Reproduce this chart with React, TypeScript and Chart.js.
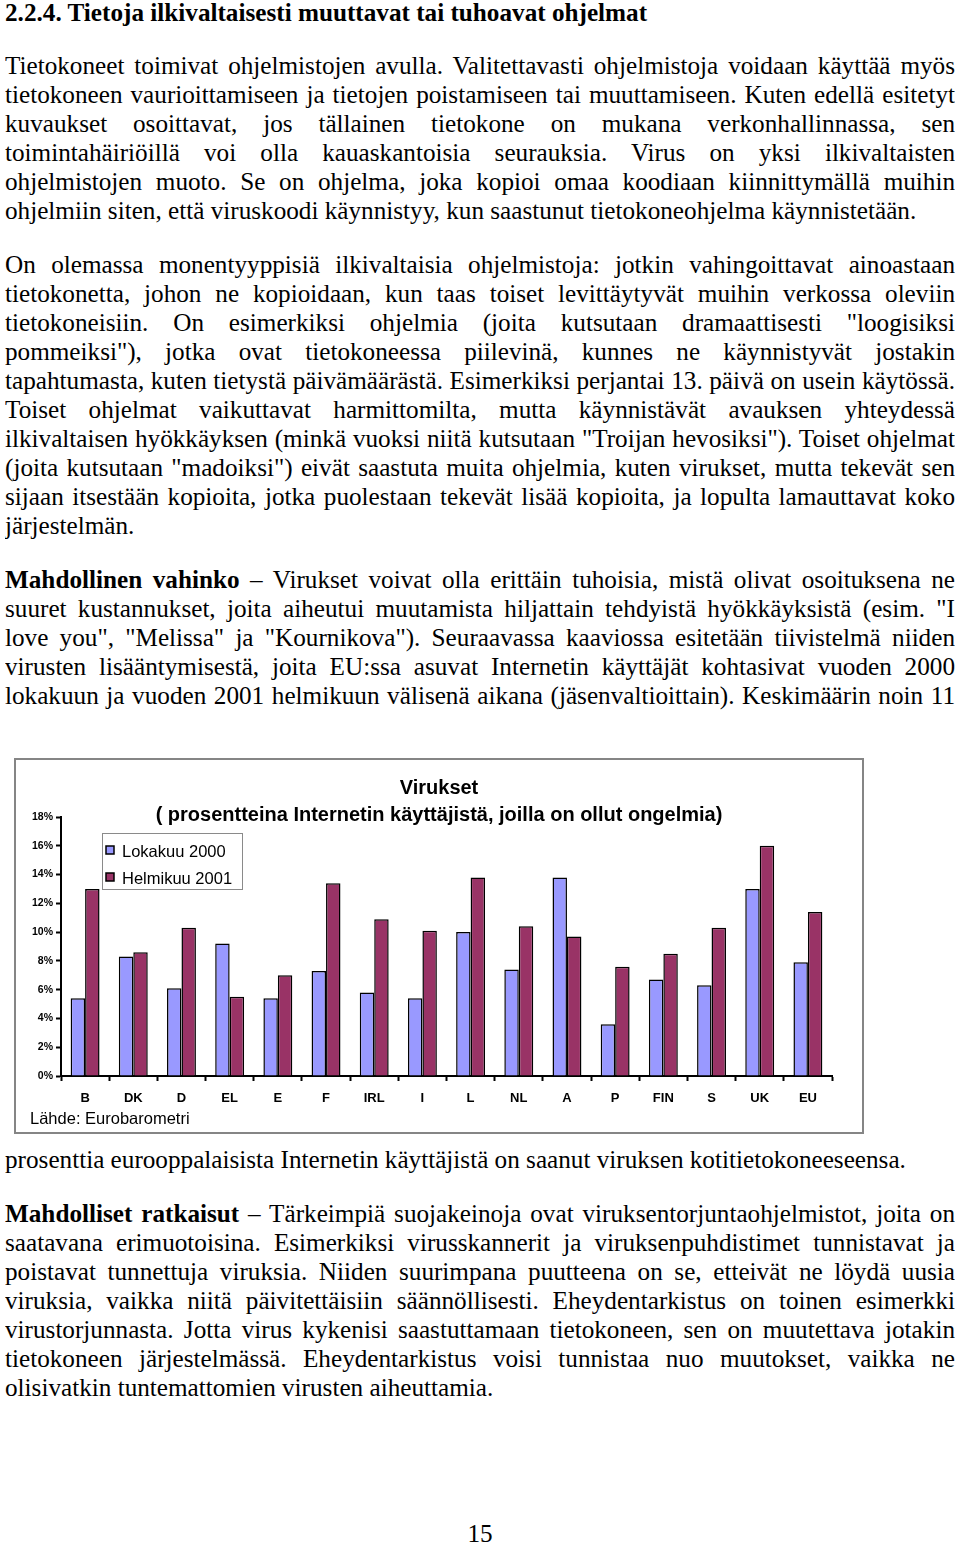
import React, { useEffect, useRef } from "react";
import { Chart, registerables } from "chart.js";

Chart.register(...registerables);

// ---- chart data ----
const categories = ["B", "DK", "D", "EL", "E", "F", "IRL", "I", "L", "NL", "A", "P", "FIN", "S", "UK", "EU"];
const oct2000 = [5.4, 8.3, 6.1, 9.2, 5.4, 7.3, 5.8, 5.4, 10.0, 7.4, 13.8, 3.6, 6.7, 6.3, 13.0, 7.9];
const feb2001 = [13.0, 8.6, 10.3, 5.5, 7.0, 13.4, 10.9, 10.1, 13.8, 10.4, 9.7, 7.6, 8.5, 10.3, 16.0, 11.4];
const seriesNames = ["Lokakuu 2000", "Helmikuu 2001"];
const seriesColors = ["#9999FF", "#993366"];
const yMin = 0;
const yMax = 18;
const yStep = 2;
const chartTitle = ["Virukset", "( prosentteina Internetin käyttäjistä, joilla on ollut ongelmia)"];
const sourceNote = "Lähde: Eurobarometri";

// ---- page text ----
const heading = "2.2.4. Tietoja ilkivaltaisesti muuttavat tai tuhoavat ohjelmat";
const para1 = [
  "Tietokoneet toimivat ohjelmistojen avulla. Valitettavasti ohjelmistoja voidaan käyttää myös",
  "tietokoneen vaurioittamiseen ja tietojen poistamiseen tai muuttamiseen. Kuten edellä esitetyt",
  "kuvaukset osoittavat, jos tällainen tietokone on mukana verkonhallinnassa, sen",
  "toimintahäiriöillä voi olla kauaskantoisia seurauksia. Virus on yksi ilkivaltaisten",
  "ohjelmistojen muoto. Se on ohjelma, joka kopioi omaa koodiaan kiinnittymällä muihin",
  "ohjelmiin siten, että viruskoodi käynnistyy, kun saastunut tietokoneohjelma käynnistetään.",
];
const para2 = [
  "On olemassa monentyyppisiä ilkivaltaisia ohjelmistoja: jotkin vahingoittavat ainoastaan",
  "tietokonetta, johon ne kopioidaan, kun taas toiset levittäytyvät muihin verkossa oleviin",
  "tietokoneisiin. On esimerkiksi ohjelmia (joita kutsutaan dramaattisesti \"loogisiksi",
  "pommeiksi\"), jotka ovat tietokoneessa piilevinä, kunnes ne käynnistyvät jostakin",
  "tapahtumasta, kuten tietystä päivämäärästä. Esimerkiksi perjantai 13. päivä on usein käytössä.",
  "Toiset ohjelmat vaikuttavat harmittomilta, mutta käynnistävät avauksen yhteydessä",
  "ilkivaltaisen hyökkäyksen (minkä vuoksi niitä kutsutaan \"Troijan hevosiksi\"). Toiset ohjelmat",
  "(joita kutsutaan \"madoiksi\") eivät saastuta muita ohjelmia, kuten virukset, mutta tekevät sen",
  "sijaan itsestään kopioita, jotka puolestaan tekevät lisää kopioita, ja lopulta lamauttavat koko",
  "järjestelmän.",
];
const para3Lead = "Mahdollinen vahinko";
const para3 = [
  " – Virukset voivat olla erittäin tuhoisia, mistä olivat osoituksena ne",
  "suuret kustannukset, joita aiheutui muutamista hiljattain tehdyistä hyökkäyksistä (esim. \"I",
  "love you\", \"Melissa\" ja \"Kournikova\"). Seuraavassa kaaviossa esitetään tiivistelmä niiden",
  "virusten lisääntymisestä, joita EU:ssa asuvat Internetin käyttäjät kohtasivat vuoden 2000",
  "lokakuun ja vuoden 2001 helmikuun välisenä aikana (jäsenvaltioittain). Keskimäärin noin 11",
];
const para4 = ["prosenttia eurooppalaisista Internetin käyttäjistä on saanut viruksen kotitietokoneeseensa."];
const para5Lead = "Mahdolliset ratkaisut";
const para5 = [
  " – Tärkeimpiä suojakeinoja ovat viruksentorjuntaohjelmistot, joita on",
  "saatavana erimuotoisina. Esimerkiksi virusskannerit ja viruksenpuhdistimet tunnistavat ja",
  "poistavat tunnettuja viruksia. Niiden suurimpana puutteena on se, etteivät ne löydä uusia",
  "viruksia, vaikka niitä päivitettäisiin säännöllisesti. Eheydentarkistus on toinen esimerkki",
  "virustorjunnasta. Jotta virus kykenisi saastuttamaan tietokoneen, sen on muutettava jotakin",
  "tietokoneen järjestelmässä. Eheydentarkistus voisi tunnistaa nuo muutokset, vaikka ne",
  "olisivatkin tuntemattomien virusten aiheuttamia.",
];
const pageNumber = "15";

const SANS = '"Liberation Sans", Arial, sans-serif';
const LINE_H = 29;

function Para(props: { lines: string[]; firstCenter: number; justifyLast: boolean; lead?: string }) {
  const { lines, firstCenter, justifyLast, lead } = props;
  return (
    <>
      {lines.map((ln, i) => {
        const isLast = i === lines.length - 1;
        const justify = !isLast || justifyLast;
        return (
          <div
            key={i}
            style={{
              position: "absolute",
              left: 5,
              width: 950,
              top: firstCenter + i * LINE_H - 14.5,
              height: LINE_H,
              lineHeight: LINE_H + "px",
              overflow: "hidden",
              textAlign: justify ? "justify" : "left",
              textAlignLast: justify ? "justify" : "left",
            } as React.CSSProperties}
          >
            {i === 0 && lead ? <b>{lead}</b> : null}
            {ln}
          </div>
        );
      })}
    </>
  );
}

function VirusChart() {
  const ref = useRef<HTMLCanvasElement | null>(null);
  useEffect(() => {
    if (!ref.current) return;
    const decor = {
      id: "decor",
      afterDraw(chart: any) {
        const ctx = chart.ctx as CanvasRenderingContext2D;
        ctx.save();
        // outer frame
        ctx.strokeStyle = "#858585";
        ctx.lineWidth = 2;
        ctx.strokeRect(1, 1, 848, 374);
        // title
        ctx.fillStyle = "#000";
        ctx.textAlign = "center";
        ctx.textBaseline = "middle";
        ctx.font = "bold 20px " + SANS;
        ctx.fillText(chartTitle[0], 425, 30);
        ctx.fillText(chartTitle[1], 425, 57);
        // legend box
        ctx.fillStyle = "#fff";
        ctx.fillRect(88, 75, 140, 56);
        ctx.strokeStyle = "#8a8a8a";
        ctx.lineWidth = 1;
        ctx.strokeRect(88.5, 75.5, 140, 56);
        const ds = chart.data.datasets;
        const rows = [93, 120];
        ds.forEach((d: any, i: number) => {
          const cy = rows[i];
          ctx.fillStyle = d.backgroundColor;
          ctx.fillRect(92, cy - 5, 8, 8);
          ctx.strokeStyle = "#000";
          ctx.lineWidth = 1.5;
          ctx.strokeRect(92, cy - 5, 8, 8);
          ctx.fillStyle = "#000";
          ctx.textAlign = "left";
          ctx.font = "16.5px " + SANS;
          ctx.fillText(d.label, 108, cy + 1);
        });
        // source
        ctx.textAlign = "left";
        ctx.font = "16.5px " + SANS;
        ctx.fillText(sourceNote, 16, 361);
        ctx.restore();
      },
    };
    const chart = new Chart(ref.current, {
      type: "bar",
      data: {
        labels: categories,
        datasets: [
          {
            label: seriesNames[0],
            data: oct2000,
            backgroundColor: seriesColors[0],
            borderColor: "#000",
            borderWidth: 1.5,
          },
          {
            label: seriesNames[1],
            data: feb2001,
            backgroundColor: seriesColors[1],
            borderColor: "#000",
            borderWidth: 1.5,
          },
        ],
      },
      options: {
        responsive: false,
        animation: false,
        devicePixelRatio: 1,
        layout: { padding: { left: 0, right: 33, top: 59, bottom: 19 } },
        datasets: { bar: { categoryPercentage: 0.6, barPercentage: 1 } },
        plugins: {
          legend: { display: false },
          title: { display: false },
          tooltip: { enabled: false },
        },
        scales: {
          x: {
            grid: {
              display: true,
              drawOnChartArea: false,
              drawTicks: true,
              tickLength: 5,
              tickColor: "#000",
              tickWidth: 2,
              offset: true,
            },
            border: { display: true, color: "#000", width: 2 },
            ticks: {
              color: "#000",
              font: { family: SANS, size: 13, weight: "bold" },
              padding: 10,
              maxRotation: 0,
              autoSkip: false,
            },
            afterFit: (s: any) => {
              s.height = 40;
            },
          },
          y: {
            min: yMin,
            max: yMax,
            grid: {
              drawOnChartArea: false,
              drawTicks: true,
              tickLength: 5,
              tickColor: "#000",
              tickWidth: 2,
            },
            border: { display: true, color: "#000", width: 2 },
            ticks: {
              stepSize: yStep,
              color: "#000",
              font: { family: SANS, size: 10.5, weight: "bold" },
              padding: 3,
              callback: (v: any) => v + "%",
            },
            afterFit: (s: any) => {
              s.width = 47;
            },
          },
        },
      } as any,
      plugins: [decor],
    });
    return () => chart.destroy();
  }, []);
  return (
    <canvas
      ref={ref}
      width={851}
      height={377}
      style={{ position: "absolute", left: 14, top: 758, width: 851, height: 377 }}
    />
  );
}

export default function App() {
  return (
    <div
      style={{
        position: "absolute",
        left: 0,
        top: 0,
        width: 960,
        height: 1545,
        background: "#fff",
        color: "#000",
        fontFamily: '"Liberation Serif", "Times New Roman", serif',
        fontSize: 25.2,
        overflow: "hidden",
      }}
    >
      <div style={{ position: "absolute", left: 5, top: 12 - 14.5, height: LINE_H, lineHeight: LINE_H + "px", fontWeight: "bold", whiteSpace: "nowrap" }}>
        {heading}
      </div>
      <Para lines={para1} firstCenter={65} justifyLast={false} />
      <Para lines={para2} firstCenter={264} justifyLast={false} />
      <Para lines={para3} firstCenter={579} justifyLast={true} lead={para3Lead} />
      <VirusChart />
      <Para lines={para4} firstCenter={1159} justifyLast={false} />
      <Para lines={para5} firstCenter={1213} justifyLast={false} lead={para5Lead} />
      <div style={{ position: "absolute", left: 0, width: 960, textAlign: "center", top: 1533 - 14.5, height: LINE_H, lineHeight: LINE_H + "px" }}>
        {pageNumber}
      </div>
    </div>
  );
}
